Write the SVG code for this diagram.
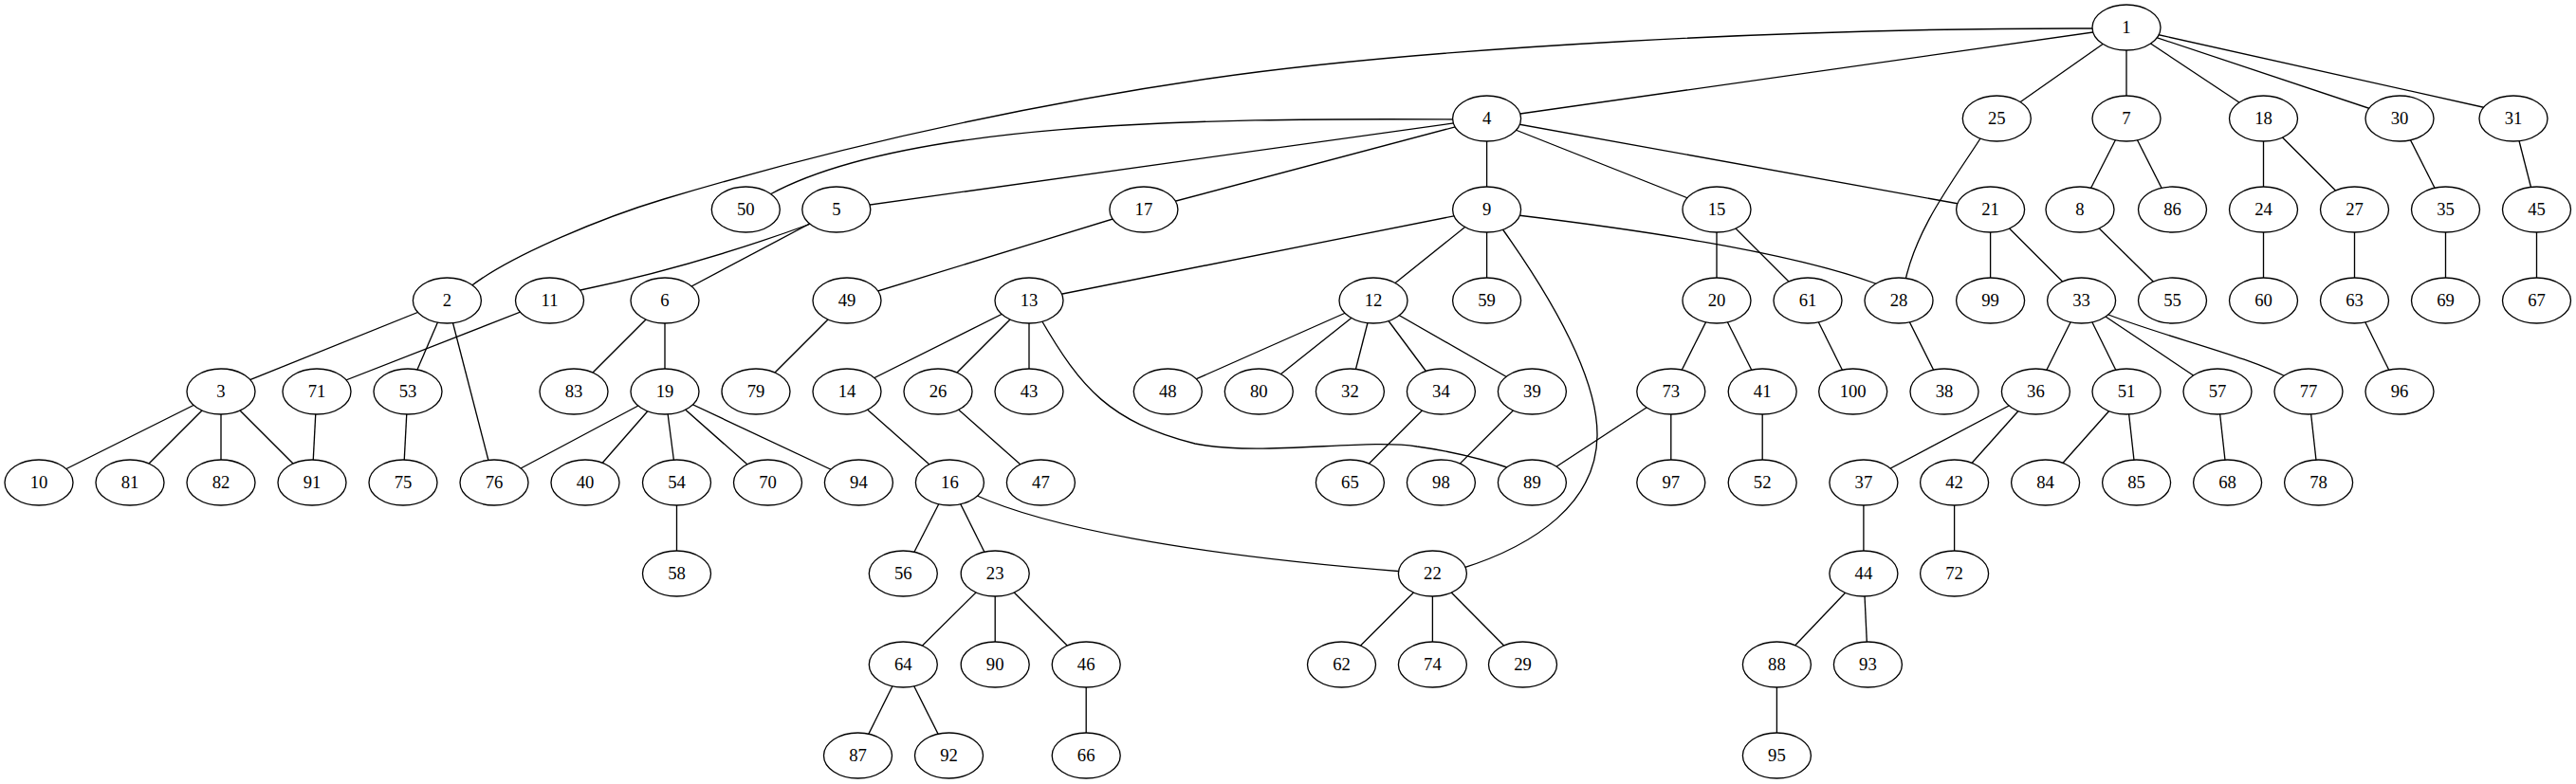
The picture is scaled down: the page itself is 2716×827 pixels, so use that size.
<svg xmlns="http://www.w3.org/2000/svg" width="2716" height="827" viewBox="0 0 2716 827">
<style>
.bg{fill:#fff}
.e line,.e path{stroke:#000;stroke-width:1.33;fill:none}
.n ellipse{fill:#fff;stroke:#000;stroke-width:1.33}
.n text{font-family:"Liberation Serif","Times New Roman",serif;font-size:18.67px;text-anchor:middle;fill:#000}
</style>
<rect class="bg" x="0" y="0" width="2716" height="827"/>
<g id="edges" class="e">
<path d="M2210,30 C1900,29 1500,50 1274,83 C1050,116 850,165 700,210 C640,228 540,268 495,303"/>
<line x1="2242" y1="29" x2="1567.6" y2="125"/>
<line x1="2242" y1="29" x2="2105.3" y2="125"/>
<line x1="2242" y1="29" x2="2242" y2="125"/>
<line x1="2242" y1="29" x2="2386.5" y2="125"/>
<line x1="2242" y1="29" x2="2530" y2="125"/>
<line x1="2275" y1="36.5" x2="2622" y2="114"/>
<path d="M1540,126 C1250,124 950,130 812,205"/>
<line x1="1567.6" y1="125" x2="881.8" y2="221"/>
<line x1="1567.6" y1="125" x2="1205.9" y2="221"/>
<line x1="1567.6" y1="125" x2="1567.6" y2="221"/>
<line x1="1567.6" y1="125" x2="1810" y2="221"/>
<line x1="1567.6" y1="125" x2="2098.6" y2="221"/>
<line x1="471.4" y1="317" x2="233" y2="413"/>
<line x1="471.4" y1="317" x2="430" y2="413"/>
<line x1="471.4" y1="317" x2="521" y2="509"/>
<path d="M855,236 Q732,281 612,306"/>
<line x1="881.8" y1="221" x2="701" y2="317"/>
<line x1="579.5" y1="317" x2="334" y2="413"/>
<line x1="701" y1="317" x2="605" y2="413"/>
<line x1="701" y1="317" x2="701" y2="413"/>
<line x1="1205.9" y1="221" x2="893" y2="317"/>
<line x1="893" y1="317" x2="797" y2="413"/>
<line x1="1567.6" y1="221" x2="1085" y2="317"/>
<line x1="1567.6" y1="221" x2="1448" y2="317"/>
<line x1="1567.6" y1="221" x2="1567.6" y2="317"/>
<path d="M1600,227 C1750,245 1900,270 1980,300"/>
<path d="M1583,240 C1640,320 1685,400 1684,460 C1683,530 1620,575 1540,600"/>
<line x1="1810" y1="221" x2="1810" y2="317"/>
<line x1="1810" y1="221" x2="1906" y2="317"/>
<path d="M2090,143 C2060,190 2020,240 2008,300"/>
<line x1="2098.6" y1="221" x2="2098.6" y2="317"/>
<line x1="2098.6" y1="221" x2="2194.6" y2="317"/>
<line x1="2242" y1="125" x2="2193" y2="221"/>
<line x1="2242" y1="125" x2="2290.5" y2="221"/>
<line x1="2193" y1="221" x2="2290.5" y2="317"/>
<line x1="2386.5" y1="125" x2="2386.5" y2="221"/>
<line x1="2386.5" y1="125" x2="2482.5" y2="221"/>
<line x1="2386.5" y1="221" x2="2386.5" y2="317"/>
<line x1="2482.5" y1="221" x2="2482.5" y2="317"/>
<line x1="2482.5" y1="317" x2="2530" y2="413"/>
<line x1="2530" y1="125" x2="2578.5" y2="221"/>
<line x1="2578.5" y1="221" x2="2578.5" y2="317"/>
<line x1="2650" y1="125" x2="2674.5" y2="221"/>
<line x1="2674.5" y1="221" x2="2674.5" y2="317"/>
<line x1="233" y1="413" x2="41" y2="509"/>
<line x1="233" y1="413" x2="137" y2="509"/>
<line x1="233" y1="413" x2="233" y2="509"/>
<line x1="233" y1="413" x2="329" y2="509"/>
<line x1="334" y1="413" x2="329" y2="509"/>
<line x1="430" y1="413" x2="425" y2="509"/>
<line x1="701" y1="413" x2="521" y2="509"/>
<line x1="701" y1="413" x2="617" y2="509"/>
<line x1="701" y1="413" x2="713.5" y2="509"/>
<line x1="701" y1="413" x2="809.5" y2="509"/>
<line x1="701" y1="413" x2="905.4" y2="509"/>
<line x1="713.5" y1="509" x2="713.5" y2="605"/>
<line x1="1085" y1="317" x2="893" y2="413"/>
<line x1="1085" y1="317" x2="989" y2="413"/>
<line x1="1085" y1="317" x2="1085" y2="413"/>
<path d="M1097,336 C1140,410 1170,445 1260,468 C1330,482 1440,462 1494,471 C1530,476 1560,483 1595,495"/>
<line x1="893" y1="413" x2="1001.4" y2="509"/>
<line x1="989" y1="413" x2="1097.4" y2="509"/>
<line x1="1001.4" y1="509" x2="952.3" y2="605"/>
<line x1="1001.4" y1="509" x2="1049.2" y2="605"/>
<path d="M1028,522 C1100,555 1250,585 1480,603"/>
<line x1="1049.2" y1="605" x2="952.3" y2="701"/>
<line x1="1049.2" y1="605" x2="1049.2" y2="701"/>
<line x1="1049.2" y1="605" x2="1145.2" y2="701"/>
<line x1="952.3" y1="701" x2="904.5" y2="797"/>
<line x1="952.3" y1="701" x2="1000.5" y2="797"/>
<line x1="1145.2" y1="701" x2="1145.2" y2="797"/>
<line x1="1448" y1="317" x2="1231.3" y2="413"/>
<line x1="1448" y1="317" x2="1327.3" y2="413"/>
<line x1="1448" y1="317" x2="1423.4" y2="413"/>
<line x1="1448" y1="317" x2="1519.4" y2="413"/>
<line x1="1448" y1="317" x2="1615.4" y2="413"/>
<line x1="1519.4" y1="413" x2="1423.4" y2="509"/>
<line x1="1615.4" y1="413" x2="1519.4" y2="509"/>
<line x1="1810" y1="317" x2="1761.8" y2="413"/>
<line x1="1810" y1="317" x2="1858.2" y2="413"/>
<line x1="1761.8" y1="413" x2="1615.4" y2="509"/>
<line x1="1761.8" y1="413" x2="1761.8" y2="509"/>
<line x1="1858.2" y1="413" x2="1858.2" y2="509"/>
<line x1="1906" y1="317" x2="1953.7" y2="413"/>
<line x1="2002" y1="317" x2="2050" y2="413"/>
<line x1="2194.6" y1="317" x2="2146.4" y2="413"/>
<line x1="2194.6" y1="317" x2="2242" y2="413"/>
<line x1="2194.6" y1="317" x2="2338" y2="413"/>
<path d="M2218,330 C2280,355 2370,375 2415,400"/>
<line x1="2146.4" y1="413" x2="1964.9" y2="509"/>
<line x1="2146.4" y1="413" x2="2060.6" y2="509"/>
<line x1="1964.9" y1="509" x2="1964.9" y2="605"/>
<line x1="2060.6" y1="509" x2="2060.6" y2="605"/>
<line x1="1964.9" y1="605" x2="1873.4" y2="701"/>
<line x1="1964.9" y1="605" x2="1969.4" y2="701"/>
<line x1="1873.4" y1="701" x2="1873.4" y2="797"/>
<line x1="2242" y1="413" x2="2156.6" y2="509"/>
<line x1="2242" y1="413" x2="2252.6" y2="509"/>
<line x1="2338" y1="413" x2="2348.6" y2="509"/>
<line x1="2434" y1="413" x2="2444.6" y2="509"/>
<line x1="1510.4" y1="605" x2="1414.5" y2="701"/>
<line x1="1510.4" y1="605" x2="1510.4" y2="701"/>
<line x1="1510.4" y1="605" x2="1605.5" y2="701"/>
</g>
<g id="n1" class="n"><ellipse cx="2242" cy="29" rx="36" ry="24"/><text x="2242" y="35">1</text></g>
<g id="n4" class="n"><ellipse cx="1567.6" cy="125" rx="36" ry="24"/><text x="1567.6" y="131">4</text></g>
<g id="n25" class="n"><ellipse cx="2105.3" cy="125" rx="36" ry="24"/><text x="2105.3" y="131">25</text></g>
<g id="n7" class="n"><ellipse cx="2242" cy="125" rx="36" ry="24"/><text x="2242" y="131">7</text></g>
<g id="n18" class="n"><ellipse cx="2386.5" cy="125" rx="36" ry="24"/><text x="2386.5" y="131">18</text></g>
<g id="n30" class="n"><ellipse cx="2530" cy="125" rx="36" ry="24"/><text x="2530" y="131">30</text></g>
<g id="n31" class="n"><ellipse cx="2650" cy="125" rx="36" ry="24"/><text x="2650" y="131">31</text></g>
<g id="n50" class="n"><ellipse cx="786.3" cy="221" rx="36" ry="24"/><text x="786.3" y="227">50</text></g>
<g id="n5" class="n"><ellipse cx="881.8" cy="221" rx="36" ry="24"/><text x="881.8" y="227">5</text></g>
<g id="n17" class="n"><ellipse cx="1205.9" cy="221" rx="36" ry="24"/><text x="1205.9" y="227">17</text></g>
<g id="n9" class="n"><ellipse cx="1567.6" cy="221" rx="36" ry="24"/><text x="1567.6" y="227">9</text></g>
<g id="n15" class="n"><ellipse cx="1810" cy="221" rx="36" ry="24"/><text x="1810" y="227">15</text></g>
<g id="n21" class="n"><ellipse cx="2098.6" cy="221" rx="36" ry="24"/><text x="2098.6" y="227">21</text></g>
<g id="n8" class="n"><ellipse cx="2193" cy="221" rx="36" ry="24"/><text x="2193" y="227">8</text></g>
<g id="n86" class="n"><ellipse cx="2290.5" cy="221" rx="36" ry="24"/><text x="2290.5" y="227">86</text></g>
<g id="n24" class="n"><ellipse cx="2386.5" cy="221" rx="36" ry="24"/><text x="2386.5" y="227">24</text></g>
<g id="n27" class="n"><ellipse cx="2482.5" cy="221" rx="36" ry="24"/><text x="2482.5" y="227">27</text></g>
<g id="n35" class="n"><ellipse cx="2578.5" cy="221" rx="36" ry="24"/><text x="2578.5" y="227">35</text></g>
<g id="n45" class="n"><ellipse cx="2674.5" cy="221" rx="36" ry="24"/><text x="2674.5" y="227">45</text></g>
<g id="n2" class="n"><ellipse cx="471.4" cy="317" rx="36" ry="24"/><text x="471.4" y="323">2</text></g>
<g id="n11" class="n"><ellipse cx="579.5" cy="317" rx="36" ry="24"/><text x="579.5" y="323">11</text></g>
<g id="n6" class="n"><ellipse cx="701" cy="317" rx="36" ry="24"/><text x="701" y="323">6</text></g>
<g id="n49" class="n"><ellipse cx="893" cy="317" rx="36" ry="24"/><text x="893" y="323">49</text></g>
<g id="n13" class="n"><ellipse cx="1085" cy="317" rx="36" ry="24"/><text x="1085" y="323">13</text></g>
<g id="n12" class="n"><ellipse cx="1448" cy="317" rx="36" ry="24"/><text x="1448" y="323">12</text></g>
<g id="n59" class="n"><ellipse cx="1567.6" cy="317" rx="36" ry="24"/><text x="1567.6" y="323">59</text></g>
<g id="n20" class="n"><ellipse cx="1810" cy="317" rx="36" ry="24"/><text x="1810" y="323">20</text></g>
<g id="n61" class="n"><ellipse cx="1906" cy="317" rx="36" ry="24"/><text x="1906" y="323">61</text></g>
<g id="n28" class="n"><ellipse cx="2002" cy="317" rx="36" ry="24"/><text x="2002" y="323">28</text></g>
<g id="n99" class="n"><ellipse cx="2098.6" cy="317" rx="36" ry="24"/><text x="2098.6" y="323">99</text></g>
<g id="n33" class="n"><ellipse cx="2194.6" cy="317" rx="36" ry="24"/><text x="2194.6" y="323">33</text></g>
<g id="n55" class="n"><ellipse cx="2290.5" cy="317" rx="36" ry="24"/><text x="2290.5" y="323">55</text></g>
<g id="n60" class="n"><ellipse cx="2386.5" cy="317" rx="36" ry="24"/><text x="2386.5" y="323">60</text></g>
<g id="n63" class="n"><ellipse cx="2482.5" cy="317" rx="36" ry="24"/><text x="2482.5" y="323">63</text></g>
<g id="n69" class="n"><ellipse cx="2578.5" cy="317" rx="36" ry="24"/><text x="2578.5" y="323">69</text></g>
<g id="n67" class="n"><ellipse cx="2674.5" cy="317" rx="36" ry="24"/><text x="2674.5" y="323">67</text></g>
<g id="n3" class="n"><ellipse cx="233" cy="413" rx="36" ry="24"/><text x="233" y="419">3</text></g>
<g id="n71" class="n"><ellipse cx="334" cy="413" rx="36" ry="24"/><text x="334" y="419">71</text></g>
<g id="n53" class="n"><ellipse cx="430" cy="413" rx="36" ry="24"/><text x="430" y="419">53</text></g>
<g id="n83" class="n"><ellipse cx="605" cy="413" rx="36" ry="24"/><text x="605" y="419">83</text></g>
<g id="n19" class="n"><ellipse cx="701" cy="413" rx="36" ry="24"/><text x="701" y="419">19</text></g>
<g id="n79" class="n"><ellipse cx="797" cy="413" rx="36" ry="24"/><text x="797" y="419">79</text></g>
<g id="n14" class="n"><ellipse cx="893" cy="413" rx="36" ry="24"/><text x="893" y="419">14</text></g>
<g id="n26" class="n"><ellipse cx="989" cy="413" rx="36" ry="24"/><text x="989" y="419">26</text></g>
<g id="n43" class="n"><ellipse cx="1085" cy="413" rx="36" ry="24"/><text x="1085" y="419">43</text></g>
<g id="n48" class="n"><ellipse cx="1231.3" cy="413" rx="36" ry="24"/><text x="1231.3" y="419">48</text></g>
<g id="n80" class="n"><ellipse cx="1327.3" cy="413" rx="36" ry="24"/><text x="1327.3" y="419">80</text></g>
<g id="n32" class="n"><ellipse cx="1423.4" cy="413" rx="36" ry="24"/><text x="1423.4" y="419">32</text></g>
<g id="n34" class="n"><ellipse cx="1519.4" cy="413" rx="36" ry="24"/><text x="1519.4" y="419">34</text></g>
<g id="n39" class="n"><ellipse cx="1615.4" cy="413" rx="36" ry="24"/><text x="1615.4" y="419">39</text></g>
<g id="n73" class="n"><ellipse cx="1761.8" cy="413" rx="36" ry="24"/><text x="1761.8" y="419">73</text></g>
<g id="n41" class="n"><ellipse cx="1858.2" cy="413" rx="36" ry="24"/><text x="1858.2" y="419">41</text></g>
<g id="n100" class="n"><ellipse cx="1953.7" cy="413" rx="36" ry="24"/><text x="1953.7" y="419">100</text></g>
<g id="n38" class="n"><ellipse cx="2050" cy="413" rx="36" ry="24"/><text x="2050" y="419">38</text></g>
<g id="n36" class="n"><ellipse cx="2146.4" cy="413" rx="36" ry="24"/><text x="2146.4" y="419">36</text></g>
<g id="n51" class="n"><ellipse cx="2242" cy="413" rx="36" ry="24"/><text x="2242" y="419">51</text></g>
<g id="n57" class="n"><ellipse cx="2338" cy="413" rx="36" ry="24"/><text x="2338" y="419">57</text></g>
<g id="n77" class="n"><ellipse cx="2434" cy="413" rx="36" ry="24"/><text x="2434" y="419">77</text></g>
<g id="n96" class="n"><ellipse cx="2530" cy="413" rx="36" ry="24"/><text x="2530" y="419">96</text></g>
<g id="n10" class="n"><ellipse cx="41" cy="509" rx="36" ry="24"/><text x="41" y="515">10</text></g>
<g id="n81" class="n"><ellipse cx="137" cy="509" rx="36" ry="24"/><text x="137" y="515">81</text></g>
<g id="n82" class="n"><ellipse cx="233" cy="509" rx="36" ry="24"/><text x="233" y="515">82</text></g>
<g id="n91" class="n"><ellipse cx="329" cy="509" rx="36" ry="24"/><text x="329" y="515">91</text></g>
<g id="n75" class="n"><ellipse cx="425" cy="509" rx="36" ry="24"/><text x="425" y="515">75</text></g>
<g id="n76" class="n"><ellipse cx="521" cy="509" rx="36" ry="24"/><text x="521" y="515">76</text></g>
<g id="n40" class="n"><ellipse cx="617" cy="509" rx="36" ry="24"/><text x="617" y="515">40</text></g>
<g id="n54" class="n"><ellipse cx="713.5" cy="509" rx="36" ry="24"/><text x="713.5" y="515">54</text></g>
<g id="n70" class="n"><ellipse cx="809.5" cy="509" rx="36" ry="24"/><text x="809.5" y="515">70</text></g>
<g id="n94" class="n"><ellipse cx="905.4" cy="509" rx="36" ry="24"/><text x="905.4" y="515">94</text></g>
<g id="n16" class="n"><ellipse cx="1001.4" cy="509" rx="36" ry="24"/><text x="1001.4" y="515">16</text></g>
<g id="n47" class="n"><ellipse cx="1097.4" cy="509" rx="36" ry="24"/><text x="1097.4" y="515">47</text></g>
<g id="n65" class="n"><ellipse cx="1423.4" cy="509" rx="36" ry="24"/><text x="1423.4" y="515">65</text></g>
<g id="n98" class="n"><ellipse cx="1519.4" cy="509" rx="36" ry="24"/><text x="1519.4" y="515">98</text></g>
<g id="n89" class="n"><ellipse cx="1615.4" cy="509" rx="36" ry="24"/><text x="1615.4" y="515">89</text></g>
<g id="n97" class="n"><ellipse cx="1761.8" cy="509" rx="36" ry="24"/><text x="1761.8" y="515">97</text></g>
<g id="n52" class="n"><ellipse cx="1858.2" cy="509" rx="36" ry="24"/><text x="1858.2" y="515">52</text></g>
<g id="n37" class="n"><ellipse cx="1964.9" cy="509" rx="36" ry="24"/><text x="1964.9" y="515">37</text></g>
<g id="n42" class="n"><ellipse cx="2060.6" cy="509" rx="36" ry="24"/><text x="2060.6" y="515">42</text></g>
<g id="n84" class="n"><ellipse cx="2156.6" cy="509" rx="36" ry="24"/><text x="2156.6" y="515">84</text></g>
<g id="n85" class="n"><ellipse cx="2252.6" cy="509" rx="36" ry="24"/><text x="2252.6" y="515">85</text></g>
<g id="n68" class="n"><ellipse cx="2348.6" cy="509" rx="36" ry="24"/><text x="2348.6" y="515">68</text></g>
<g id="n78" class="n"><ellipse cx="2444.6" cy="509" rx="36" ry="24"/><text x="2444.6" y="515">78</text></g>
<g id="n58" class="n"><ellipse cx="713.5" cy="605" rx="36" ry="24"/><text x="713.5" y="611">58</text></g>
<g id="n56" class="n"><ellipse cx="952.3" cy="605" rx="36" ry="24"/><text x="952.3" y="611">56</text></g>
<g id="n23" class="n"><ellipse cx="1049.2" cy="605" rx="36" ry="24"/><text x="1049.2" y="611">23</text></g>
<g id="n22" class="n"><ellipse cx="1510.4" cy="605" rx="36" ry="24"/><text x="1510.4" y="611">22</text></g>
<g id="n44" class="n"><ellipse cx="1964.9" cy="605" rx="36" ry="24"/><text x="1964.9" y="611">44</text></g>
<g id="n72" class="n"><ellipse cx="2060.6" cy="605" rx="36" ry="24"/><text x="2060.6" y="611">72</text></g>
<g id="n64" class="n"><ellipse cx="952.3" cy="701" rx="36" ry="24"/><text x="952.3" y="707">64</text></g>
<g id="n90" class="n"><ellipse cx="1049.2" cy="701" rx="36" ry="24"/><text x="1049.2" y="707">90</text></g>
<g id="n46" class="n"><ellipse cx="1145.2" cy="701" rx="36" ry="24"/><text x="1145.2" y="707">46</text></g>
<g id="n62" class="n"><ellipse cx="1414.5" cy="701" rx="36" ry="24"/><text x="1414.5" y="707">62</text></g>
<g id="n74" class="n"><ellipse cx="1510.4" cy="701" rx="36" ry="24"/><text x="1510.4" y="707">74</text></g>
<g id="n29" class="n"><ellipse cx="1605.5" cy="701" rx="36" ry="24"/><text x="1605.5" y="707">29</text></g>
<g id="n88" class="n"><ellipse cx="1873.4" cy="701" rx="36" ry="24"/><text x="1873.4" y="707">88</text></g>
<g id="n93" class="n"><ellipse cx="1969.4" cy="701" rx="36" ry="24"/><text x="1969.4" y="707">93</text></g>
<g id="n87" class="n"><ellipse cx="904.5" cy="797" rx="36" ry="24"/><text x="904.5" y="803">87</text></g>
<g id="n92" class="n"><ellipse cx="1000.5" cy="797" rx="36" ry="24"/><text x="1000.5" y="803">92</text></g>
<g id="n66" class="n"><ellipse cx="1145.2" cy="797" rx="36" ry="24"/><text x="1145.2" y="803">66</text></g>
<g id="n95" class="n"><ellipse cx="1873.4" cy="797" rx="36" ry="24"/><text x="1873.4" y="803">95</text></g>
</svg>
